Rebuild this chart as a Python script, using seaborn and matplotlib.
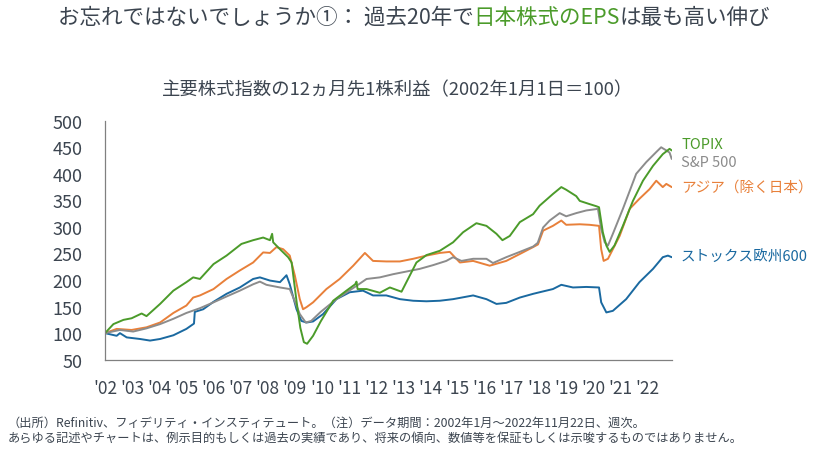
import pandas as pd
import matplotlib.pyplot as plt
import seaborn as sns

# Values (decimal year, index 2002/1/1 = 100)
topix_year = [2002.0, 2002.31, 2002.68, 2002.98, 2003.35, 2003.53, 2004.03, 2004.52, 2005.0, 2005.25,
              2005.5, 2006.0, 2006.48, 2007.03, 2007.46, 2007.83, 2008.08, 2008.16, 2008.2, 2008.45,
              2008.75, 2008.88, 2009.06, 2009.2, 2009.33, 2009.45, 2009.67, 2009.95, 2010.41, 2010.9,
              2011.22, 2011.27, 2011.31, 2011.64, 2012.13, 2012.5, 2012.93, 2013.11, 2013.48, 2013.85,
              2014.34, 2014.83, 2015.2, 2015.69, 2016.06, 2016.43, 2016.65, 2016.92, 2017.29, 2017.78,
              2018.02, 2018.51, 2018.82, 2019.0, 2019.37, 2019.5, 2019.86, 2020.11, 2020.21, 2020.35,
              2020.48, 2020.6, 2020.78, 2021.09, 2021.46, 2021.83, 2022.2, 2022.56, 2022.81, 2022.89]
topix_val = [100, 117, 125, 128, 137, 132, 155, 180, 196, 205,
             202, 230, 246, 268, 275, 280, 275, 287, 271, 258,
             243, 233, 160, 110, 83, 80, 95, 122, 161, 180,
             192, 197, 183, 183, 176, 186, 178, 196, 233, 247,
             255, 271, 290, 307, 302, 287, 275, 283, 309, 324,
             340, 362, 375, 370, 358, 349, 343, 339, 337, 290,
             265, 253, 265, 302, 349, 387, 415, 437, 447, 444]

sp500_year = [2002.0, 2002.55, 2003.04, 2003.53, 2004.03, 2004.52, 2005.0, 2005.5, 2006.0, 2006.48,
              2006.97, 2007.46, 2007.71, 2007.95, 2008.45, 2008.81, 2008.94, 2009.18, 2009.4, 2009.6,
              2009.95, 2010.53, 2011.27, 2011.64, 2012.13, 2012.62, 2013.11, 2013.6, 2014.09, 2014.58,
              2014.83, 2015.14, 2015.57, 2016.06, 2016.3, 2016.79, 2017.29, 2017.78, 2017.95, 2018.15,
              2018.39, 2018.76, 2019.0, 2019.37, 2019.74, 2020.17, 2020.29, 2020.42, 2020.54, 2020.72,
              2021.09, 2021.58, 2021.95, 2022.32, 2022.5, 2022.69, 2022.81, 2022.89]
sp500_val = [100, 106, 103, 109, 117, 127, 138, 147, 158, 169,
             180, 192, 197, 191, 186, 183, 167, 136, 120, 123,
             140, 164, 189, 202, 205, 211, 216, 221, 228, 236,
             243, 236, 240, 240, 232, 243, 253, 263, 270, 299,
             312, 326, 320, 326, 331, 334, 296, 271, 265, 287,
             334, 400, 422, 441, 450, 444, 440, 428]

asia_year = [2002.0, 2002.43, 2002.98, 2003.53, 2004.03, 2004.52, 2005.0, 2005.25, 2005.5, 2006.0,
             2006.48, 2006.97, 2007.46, 2007.83, 2008.08, 2008.32, 2008.57, 2008.81, 2009.0, 2009.18,
             2009.3, 2009.43, 2009.67, 2010.16, 2010.65, 2011.15, 2011.58, 2011.88, 2012.37, 2012.87,
             2013.36, 2013.85, 2014.34, 2014.71, 2015.08, 2015.57, 2016.18, 2016.79, 2017.29, 2017.78,
             2017.96, 2018.15, 2018.51, 2018.82, 2019.0, 2019.5, 2019.86, 2020.21, 2020.29, 2020.38,
             2020.54, 2020.97, 2021.34, 2021.7, 2022.07, 2022.32, 2022.56, 2022.69, 2022.89]
asia_val = [100, 108, 106, 111, 120, 138, 152, 167, 171, 183,
            202, 218, 233, 252, 251, 262, 258, 246, 208, 164,
            145, 149, 158, 183, 202, 227, 251, 236, 235, 235,
            240, 246, 251, 253, 233, 236, 227, 236, 249, 262,
            267, 293, 302, 312, 304, 305, 304, 302, 258, 236,
            240, 283, 334, 353, 371, 387, 375, 381, 375]

europe_year = [2002.0, 2002.43, 2002.55, 2002.8, 2003.29, 2003.66, 2004.03, 2004.52, 2005.0, 2005.28,
               2005.31, 2005.62, 2006.0, 2006.48, 2006.97, 2007.46, 2007.71, 2008.08, 2008.45, 2008.69,
               2008.81, 2009.06, 2009.24, 2009.43, 2009.67, 2010.04, 2010.53, 2011.02, 2011.51, 2011.88,
               2012.37, 2012.87, 2013.36, 2013.85, 2014.34, 2014.83, 2015.57, 2016.06, 2016.43, 2016.79,
               2017.29, 2017.78, 2018.02, 2018.51, 2018.82, 2019.25, 2019.74, 2020.21, 2020.29, 2020.48,
               2020.72, 2021.21, 2021.7, 2022.2, 2022.56, 2022.75, 2022.89]
europe_val = [100, 95, 100, 92, 89, 86, 89, 96, 108, 118,
              140, 145, 159, 174, 186, 202, 205, 199, 196, 209,
              192, 145, 123, 120, 122, 136, 164, 177, 180, 171,
              171, 164, 161, 160, 161, 164, 171, 164, 155, 157,
              167, 174, 177, 183, 191, 186, 187, 186, 158, 139,
              142, 164, 196, 221, 243, 246, 243]

series_names = ["ストックス欧州600", "アジア（除く日本）", "S&P 500", "TOPIX"]
series_colors = ["#1a69a0", "#e8803a", "#8c8c8c", "#4b9b2a"]
tick_years = list(range(2002, 2023))
tick_labels = ["'" + str(y)[2:] for y in tick_years]

frames = []
for name, yrs, vals in zip(series_names,
                           [europe_year, asia_year, sp500_year, topix_year],
                           [europe_val, asia_val, sp500_val, topix_val]):
    frames.append(pd.DataFrame({"year": yrs, "value": vals, "index": name}))
df = pd.concat(frames, ignore_index=True)

sns.set_style("white")
plt.rcParams['font.family'] = ['Noto Sans CJK JP', 'DejaVu Sans']

dark = "#3c4550"
fig = plt.figure(figsize=(8.25, 4.64), dpi=100)
ax = fig.add_axes([105 / 825, 1 - 360.7 / 464, (672 - 105) / 825, (360.7 - 121.7) / 464])

sns.lineplot(data=df, x="year", y="value", hue="index", hue_order=series_names,
             palette=series_colors, estimator=None, sort=True, linewidth=1.4,
             legend=False, ax=ax)

ax.set_xlim(2002, 2022.9)
ax.set_ylim(50, 500)
ax.set_yticks(range(50, 501, 50))
ax.set_xticks(tick_years)
ax.set_xticklabels(tick_labels)
ax.set_xlabel("")
ax.set_ylabel("")
for side in ["top", "right"]:
    ax.spines[side].set_visible(False)
for side in ["left", "bottom"]:
    ax.spines[side].set_color("#808080")
    ax.spines[side].set_linewidth(0.9)
ax.tick_params(axis="y", direction="out", length=6, width=0.8, color="#808080",
               pad=10, labelsize=13, labelcolor=dark)
ax.tick_params(axis="x", direction="out", length=6, width=0.8, color="#808080",
               pad=8, labelsize=12.5, labelcolor=dark)

# series labels on the right
label_y = [257.7, 187.7, 162.7, 145]
for name, color, py in zip(series_names, series_colors, label_y):
    fig.text(681 / 825, 1 - py / 464, name, color=color, fontsize=10.5, va="center", ha="left")

# title with highlighted part
renderer = fig.canvas.get_renderer()
parts = [("お忘れではないでしょうか①： 過去20年で", dark),
         ("日本株式のEPS", "#4b9b2a"),
         ("は最も高い伸び", dark)]
texts = []
x = 0
for s, c in parts:
    t = fig.text(x, 1 - 18 / 464, s, color=c, fontsize=15.5, fontweight="normal",
                 va="center", ha="left")
    w = t.get_window_extent(renderer).width / fig.bbox.width
    texts.append((t, x))
    x += w
start = 414 / 825 - x / 2
for t, x0 in texts:
    t.set_x(start + x0)

fig.text(398 / 825, 1 - 90 / 464, "主要株式指数の12ヵ月先1株利益（2002年1月1日＝100）",
         color=dark, fontsize=13.2, ha="center", va="center")

fig.text(8 / 825, 1 - 423 / 464,
         "（出所）Refinitiv、フィデリティ・インスティテュート。（注）データ期間：2002年1月～2022年11月22日、週次。",
         color=dark, fontsize=8.8, ha="left", va="center")
fig.text(8 / 825, 1 - 438 / 464,
         "あらゆる記述やチャートは、例示目的もしくは過去の実績であり、将来の傾向、数値等を保証もしくは示唆するものではありません。",
         color=dark, fontsize=8.8, ha="left", va="center")

fig.savefig("out.png", dpi=100)
